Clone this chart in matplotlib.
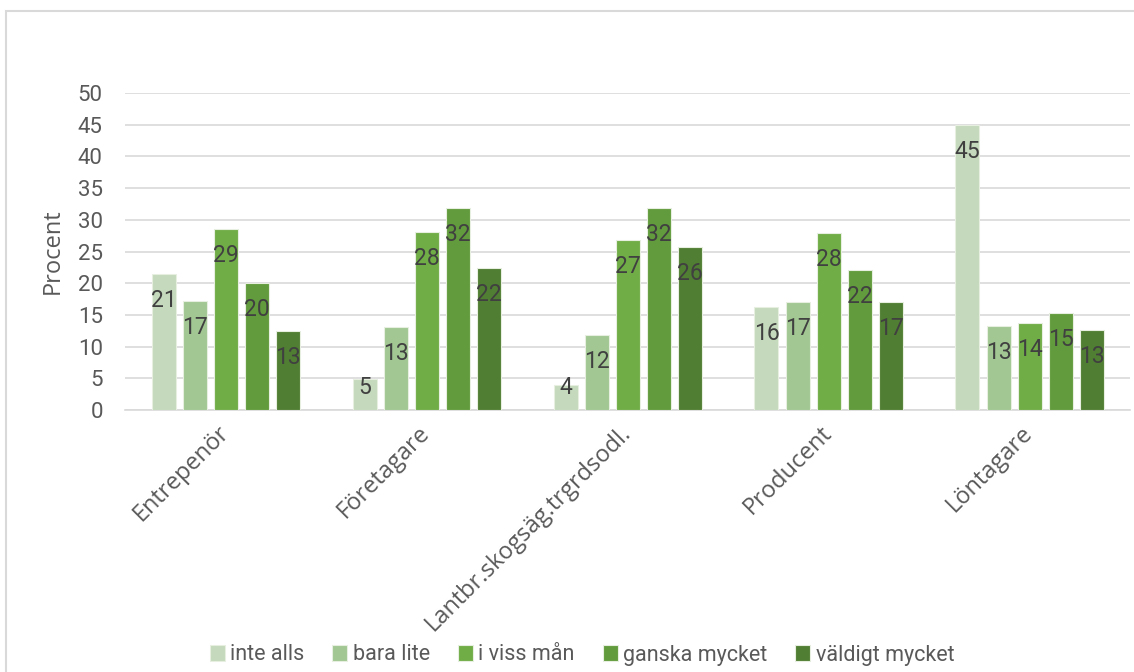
import numpy as np
import matplotlib
matplotlib.use("Agg")
from matplotlib import pyplot as plt
from matplotlib.patches import Rectangle

categories = ["Entrepenör", "Företagare", "Lantbr.skogsäg.trgrdsodl.", "Producent", "Löntagare"]
series_names = ["inte alls", "bara lite", "i viss mån", "ganska mycket", "väldigt mycket"]
inte_alls = [21.4, 4.9, 3.9, 16.2, 45.0]
bara_lite = [17.2, 13.1, 11.8, 17.0, 13.2]
i_viss_man = [28.5, 28.1, 26.8, 27.9, 13.7]
ganska_mycket = [20.1, 31.9, 31.9, 22.1, 15.3]
valdigt_mycket = [12.5, 22.4, 25.7, 17.0, 12.6]
labels = [
    [21, 5, 4, 16, 45],
    [17, 13, 12, 17, 13],
    [29, 28, 27, 28, 14],
    [20, 32, 32, 22, 15],
    [13, 22, 26, 17, 13],
]
colors = ["#C5D9BC", "#A2C792", "#70AD47", "#629B3D", "#507E32"]

W, H = 1134, 672
fig = plt.figure(figsize=(W / 100, H / 100), dpi=100)
ax = fig.add_axes([125 / W, 262 / H, 1005 / W, 317 / H])

values = [inte_alls, bara_lite, i_viss_man, ganska_mycket, valdigt_mycket]
x = np.arange(len(categories))
step = 31 / 201
width = 24 / 201
for i, vals in enumerate(values):
    pos = x + (i - 2) * step
    ax.bar(pos, vals, width, color=colors[i], edgecolor="#E6EFE0", linewidth=0.8,
           label=series_names[i], zorder=3)
    for p, v, lab in zip(pos, vals, labels[i]):
        ax.text(p, max(v - 4.2, 3.6), str(lab), ha="center", va="center",
                fontsize=16.5, color="#404040", family="Roboto", zorder=4)

ax.set_xlim(-0.5, len(categories) - 0.5)
ax.set_ylim(0, 50)
ax.set_yticks(range(0, 51, 5))
ax.yaxis.grid(True, color="#D9D9D9", linewidth=1.2, zorder=0)
ax.set_axisbelow(True)
for s in ["top", "right", "left"]:
    ax.spines[s].set_visible(False)
ax.spines["bottom"].set_color("#D9D9D9")
ax.spines["bottom"].set_linewidth(1.2)
ax.tick_params(axis="both", length=0)
ax.tick_params(axis="y", pad=16, labelsize=16, labelcolor="#595959")
for t in ax.get_yticklabels():
    t.set_family("Roboto")

ax.set_xticks(x)
ax.set_xticklabels(categories, rotation=45, ha="right", va="center", rotation_mode="anchor",
                   fontsize=17, color="#595959", family="Open Sans")
ax.tick_params(axis="x", pad=14)

ax.set_ylabel("Procent", fontsize=17, color="#595959", family="Open Sans")
ax.yaxis.set_label_coords(-0.06, 0.5)

leg = fig.legend(loc="center", bbox_to_anchor=(582 / W, 1 - 655 / H), ncol=5,
                 frameon=False, handlelength=0.7, handleheight=0.7, handletextpad=0.25,
                 columnspacing=1.3, prop={"family": "Roboto", "size": 15.5})
for t in leg.get_texts():
    t.set_color("#595959")

fig.add_artist(Rectangle((5.5 / W, -0.1), 1.2, (H - 11) / H + 0.1, transform=fig.transFigure,
                         fill=False, edgecolor="#D9D9D9", linewidth=1.5))

fig.savefig("out.png", dpi=100, facecolor="white")
